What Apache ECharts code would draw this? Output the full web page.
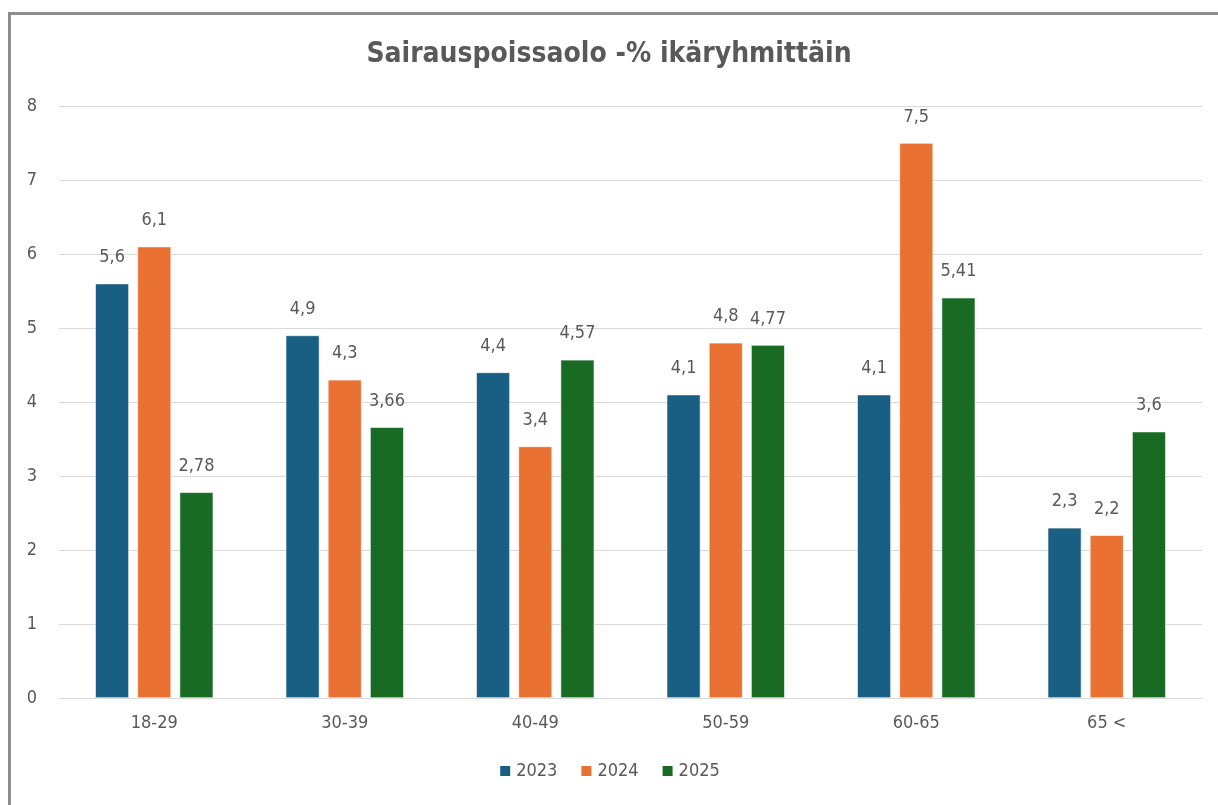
<!DOCTYPE html>
<html>
<head>
<meta charset="utf-8">
<script src="https://cdn.jsdelivr.net/npm/echarts@6/dist/echarts.min.js"></script>
<style>
  html, body { margin: 0; padding: 0; background: #fff; overflow: hidden; }
  #frame { position: absolute; left: 8px; top: 12px; width: 1300px; height: 900px; border: 3px solid #8c8c8c; }
  #chartWrap { position: absolute; left: 0; top: 0; width: 1218px; height: 805px; }
</style>
</head>
<body>
<div id="frame"></div>
<div id="chartWrap"></div>
<script>
// 数据
var categories = ['18-29', '30-39', '40-49', '50-59', '60-65', '65 <'];
var years = ['2023', '2024', '2025'];
var values2023 = [5.6, 4.9, 4.4, 4.1, 4.1, 2.3];
var values2024 = [6.1, 4.3, 3.4, 4.8, 7.5, 2.2];
var values2025 = [2.78, 3.66, 4.57, 4.77, 5.41, 3.6];
var yTicks = [0, 8, 1];

var colors = ['#195e83', '#e97132', '#196b24'];
var FONT = '"Liberation Sans Narrow", "DejaVu Sans Condensed", "Liberation Sans", sans-serif';
var TEXT = '#595959';

// 逗号小数
function fmt(v) {
  return String(v).replace('.', ',');
}

function makeSeries(name, data, i) {
  return {
    name: name,
    type: 'bar',
    data: data,
    barGap: '25%',
    barCategoryGap: '38%',
    itemStyle: { color: colors[i], borderColor: '#ffffff', borderWidth: 0.6 },
    label: {
      show: true,
      position: 'top',
      distance: 17,
      color: TEXT,
      fontFamily: FONT,
      fontSize: 18,
      formatter: function(p) { return fmt(p.value); }
    }
  };
}

var myChart = echarts.init(document.getElementById('chartWrap'));
myChart.setOption({
  animation: false,
  title: {
    text: 'Sairauspoissaolo -% ikäryhmittäin',
    left: 'center',
    top: 36,
    textStyle: { color: TEXT, fontFamily: FONT, fontWeight: 'bold', fontSize: 28 }
  },
  legend: {
    bottom: 20,
    left: 'center',
    itemWidth: 12,
    itemHeight: 12,
    itemGap: 22,
    icon: 'rect',
    textStyle: { color: TEXT, fontFamily: FONT, fontSize: 18 },
    data: years
  },
  grid: { left: 59, right: 16, top: 106, bottom: 107, containLabel: false },
  xAxis: {
    type: 'category',
    data: categories,
    axisLine: { lineStyle: { color: '#d9d9d9', width: 1 } },
    axisTick: { show: false },
    axisLabel: { color: TEXT, fontFamily: FONT, fontSize: 18, margin: 16 }
  },
  yAxis: {
    type: 'value',
    min: yTicks[0],
    max: yTicks[1],
    interval: yTicks[2],
    axisLine: { show: false },
    axisTick: { show: false },
    splitLine: { lineStyle: { color: '#d9d9d9', width: 1 } },
    axisLabel: { color: TEXT, fontFamily: FONT, fontSize: 18, margin: 22 }
  },
  series: [
    makeSeries(years[0], values2023, 0),
    makeSeries(years[1], values2024, 1),
    makeSeries(years[2], values2025, 2)
  ]
});
</script>
</body>
</html>
